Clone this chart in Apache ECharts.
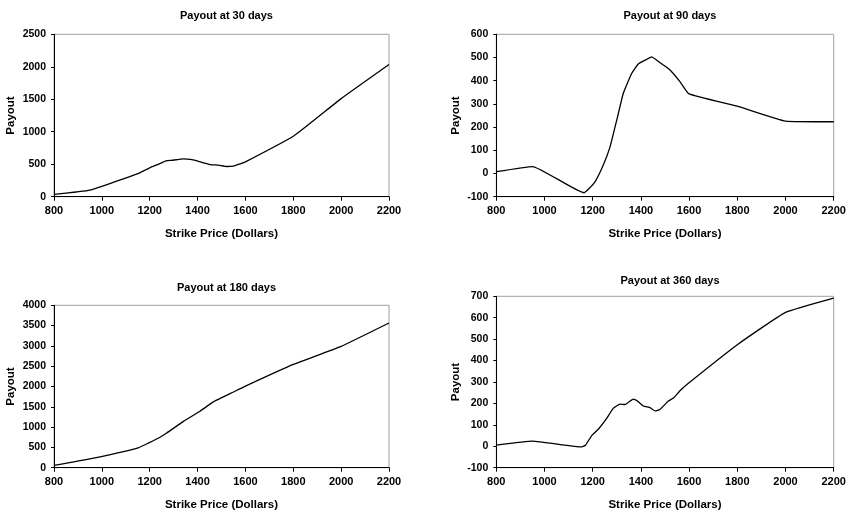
<!DOCTYPE html>
<html>
<head>
<meta charset="utf-8">
<script src="https://cdn.jsdelivr.net/npm/echarts@6/dist/echarts.min.js"></script>
<style>
html,body{margin:0;padding:0;background:#fff;}
#c{width:854px;height:514px;}
</style>
</head>
<body>
<div id="c"></div>
<script>
// ---- Data ----
const titles = ["Payout at 30 days", "Payout at 90 days", "Payout at 180 days", "Payout at 360 days"];
const xTicks = [800, 1000, 1200, 1400, 1600, 1800, 2000, 2200];

const strike30 = [800, 950, 1150, 1200, 1240, 1268, 1292, 1341, 1370, 1395, 1425, 1452, 1487, 1522, 1550, 1578, 1600, 1800, 2000, 2200];
const payout30 = [35, 100, 355, 445, 505, 550, 560, 583, 575, 555, 520, 495, 485, 465, 472, 505, 535, 930, 1510, 2035];

const strike90 = [800, 950, 1164, 1185, 1210, 1244, 1272, 1300, 1327, 1362, 1389, 1420, 1445, 1470, 1493, 1521, 1562, 1600, 1800, 2000, 2200];
const payout90 = [8, 30, -83, -65, -35, 37, 115, 231, 346, 432, 472, 490, 503, 485, 468, 446, 396, 343, 290, 226, 223];

const strike180 = [800, 950, 1152, 1194, 1243, 1271, 1341, 1410, 1466, 1550, 1598, 1800, 2000, 2200];
const payout180 = [55, 215, 490, 605, 750, 855, 1140, 1390, 1620, 1865, 2005, 2545, 2990, 3565];

const strike360 = [800, 950, 1155, 1170, 1196, 1225, 1258, 1285, 1313, 1334, 1368, 1385, 1410, 1438, 1459, 1479, 1514, 1535, 1562, 1597, 1800, 2000, 2200];
const payout360 = [5, 24, -3, 5, 50, 82, 130, 177, 197, 195, 220, 212, 188, 180, 165, 172, 211, 225, 259, 294, 474, 625, 692];

const yRanges = [[0, 2500, 500], [-100, 600, 100], [0, 4000, 500], [-100, 700, 100]];

// ---- Layout ----
const grids = [
  {left: 54, top: 34.3, width: 335, height: 162.4},
  {left: 496.3, top: 34.3, width: 337.4, height: 162.4},
  {left: 54, top: 305.3, width: 335, height: 162.4},
  {left: 496.3, top: 296.3, width: 337.4, height: 171.4}
];
const titleTops = [5, 5, 277, 270.5];
const yNameGaps = [37, 34, 37, 34];

const FONT = "'Liberation Sans', Arial, sans-serif";
const pairs = [
  strike30.map((x, i) => [x, payout30[i]]),
  strike90.map((x, i) => [x, payout90[i]]),
  strike180.map((x, i) => [x, payout180[i]]),
  strike360.map((x, i) => [x, payout360[i]])
];

const option = {
  animation: false,
  backgroundColor: '#fff',
  title: titles.map((t, i) => ({
    text: t,
    left: grids[i].left + grids[i].width / 2,
    top: titleTops[i],
    textAlign: 'center',
    textStyle: {fontFamily: FONT, fontWeight: 'bold', fontSize: 11, color: '#000'}
  })),
  grid: grids.map(g => Object.assign({show: true, borderColor: '#a0a0a0', borderWidth: 1, backgroundColor: 'transparent'}, g)),
  xAxis: grids.map((g, i) => ({
    type: 'value', gridIndex: i, min: xTicks[0], max: xTicks[xTicks.length - 1], interval: 200,
    axisLine: {show: true, onZero: false, lineStyle: {color: '#000', width: 1}},
    axisTick: {show: true, length: 4, lineStyle: {color: '#000'}},
    axisLabel: {fontFamily: FONT, fontWeight: 'bold', fontSize: 11, color: '#000', margin: 9, formatter: v => String(v)},
    splitLine: {show: false},
    name: 'Strike Price (Dollars)', nameLocation: 'middle', nameGap: 31,
    nameTextStyle: {fontFamily: FONT, fontWeight: 'bold', fontSize: 11.5, color: '#000'}
  })),
  yAxis: grids.map((g, i) => ({
    type: 'value', gridIndex: i, min: yRanges[i][0], max: yRanges[i][1], interval: yRanges[i][2],
    axisLine: {show: true, onZero: false, lineStyle: {color: '#000', width: 1}},
    axisTick: {show: true, length: 3, lineStyle: {color: '#000'}},
    axisLabel: {fontFamily: FONT, fontWeight: 'bold', fontSize: 10.5, color: '#000', margin: 8, formatter: v => String(v)},
    splitLine: {show: false},
    name: 'Payout', nameLocation: 'middle', nameRotate: 90, nameGap: yNameGaps[i],
    nameTextStyle: {fontFamily: FONT, fontWeight: 'bold', fontSize: 11.5, color: '#000'}
  })),
  series: pairs.map((d, i) => ({
    type: 'line', xAxisIndex: i, yAxisIndex: i, data: d,
    showSymbol: false, smooth: 0.12,
    lineStyle: {color: '#000', width: 1.3}
  }))
};

const chart = echarts.init(document.getElementById('c'), null, {renderer: 'canvas'});
chart.setOption(option);
</script>
</body>
</html>
